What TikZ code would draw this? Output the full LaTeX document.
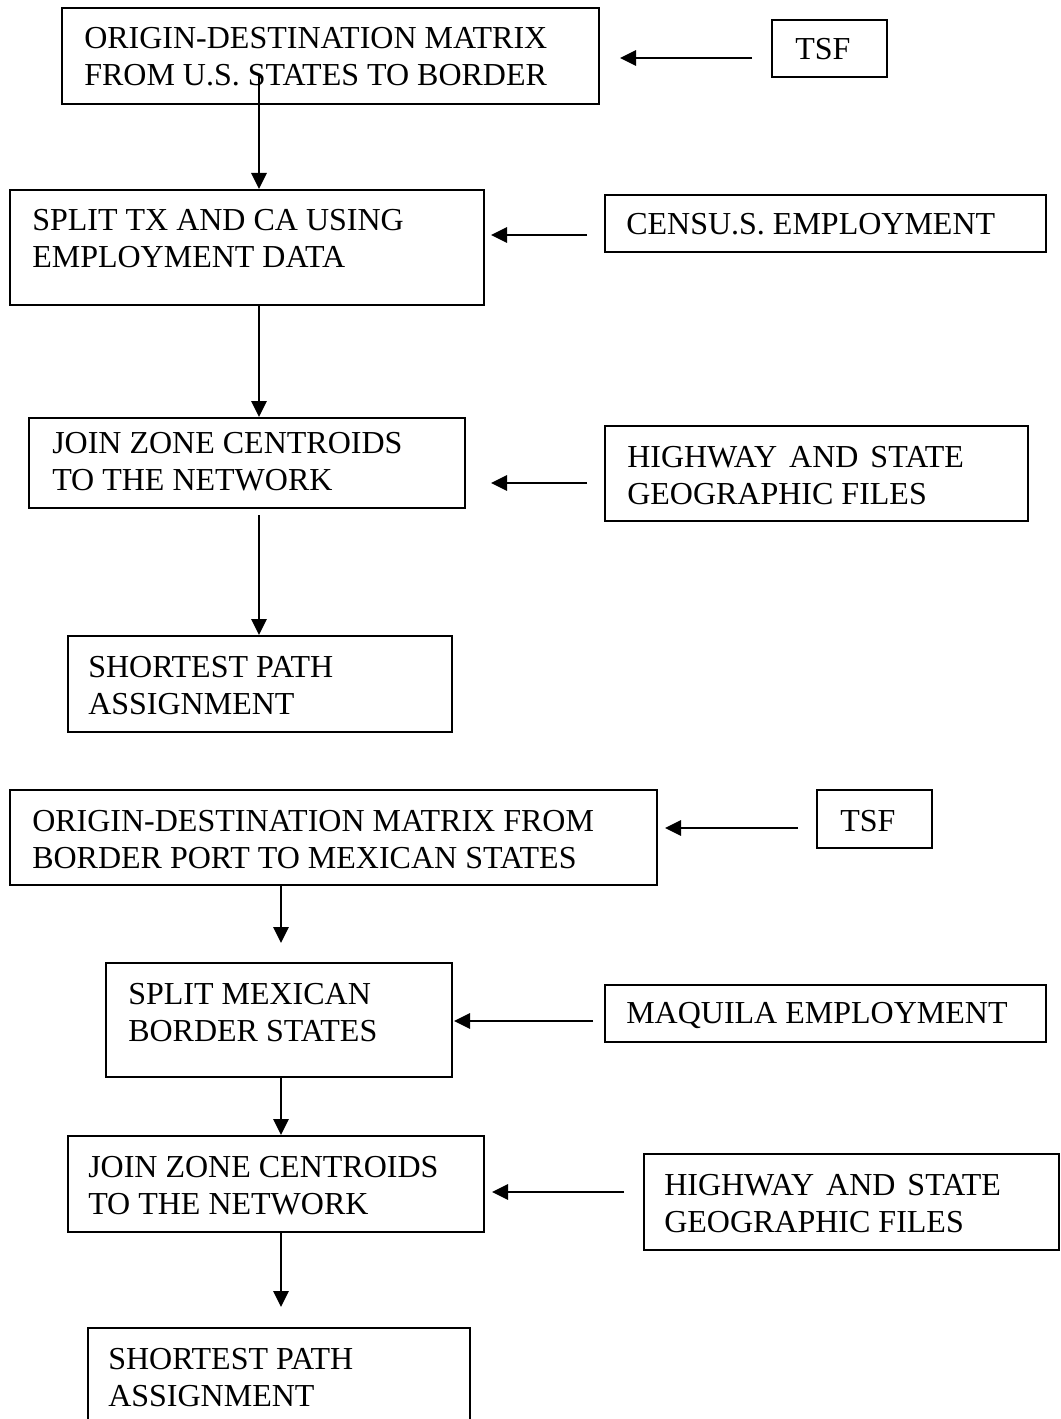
\documentclass[tikz,border=0pt]{standalone}
\usepackage{fontspec}
\setmainfont{Liberation Serif}
\usetikzlibrary{arrows.meta,fit,calc}

\begin{document}
\begin{tikzpicture}[
    x=0.75pt, y=-0.75pt,
    box/.style={draw, line width=1.5pt, inner sep=0pt},
    lbl/.style={anchor=base west, inner sep=0pt, font=\fontsize{24}{27.75}\selectfont},
    arr/.style={line width=1.3pt, -{Triangle[length=12pt,width=11.5pt]}}
  ]
  \useasboundingbox (0,0) rectangle (1060,1419);
  \clip (0,0) rectangle (1060,1419);

  % ---------- U.S. side ----------
  \node[box, fit={(62,8) (599,104)}] (od1) {};
  \node[lbl] (od1t) at (84,49) {\begin{tabular}[t]{@{}l@{}}ORIGIN-DESTINATION MATRIX\\FROM U.S. STATES TO BORDER\end{tabular}};

  \node[box, fit={(772,20) (887,77)}] (tsf1) {};
  \node[lbl] (tsf1t) at (795,60) {TSF};

  \node[box, fit={(10,190) (484,305)}] (split1) {};
  \node[lbl] (split1t) at (32,231) {\begin{tabular}[t]{@{}l@{}}SPLIT TX AND CA USING\\EMPLOYMENT DATA\end{tabular}};

  \node[box, fit={(605,195) (1046,252)}] (cens) {};
  \node[lbl] (censt) at (626,235) {CENSU.S. EMPLOYMENT};

  \node[box, fit={(29,418) (465,508)}] (join1) {};
  \node[lbl] (join1t) at (52,453) {\begin{tabular}[t]{@{}l@{}}JOIN ZONE CENTROIDS\\TO THE NETWORK\end{tabular}};

  \node[box, fit={(605,426) (1028,521)}] (hw1) {};
  \node[lbl] (hw1t) at (627,467) {\begin{tabular}[t]{@{}l@{}}HIGHWAY\hspace{3pt} AND\hspace{3pt} STATE\\GEOGRAPHIC FILES\end{tabular}};

  \node[box, fit={(68,636) (452,732)}] (sp1) {};
  \node[lbl] (sp1t) at (88,677) {\begin{tabular}[t]{@{}l@{}}SHORTEST PATH\\ASSIGNMENT\end{tabular}};

  % ---------- Mexican side ----------
  \node[box, fit={(10,790) (657,885)}] (od2) {};
  \node[lbl] (od2t) at (32,831) {\begin{tabular}[t]{@{}l@{}}ORIGIN-DESTINATION MATRIX FROM\\BORDER PORT TO MEXICAN STATES\end{tabular}};

  \node[box, fit={(817,790) (932,848)}] (tsf2) {};
  \node[lbl] (tsf2t) at (840,831) {TSF};

  \node[box, fit={(106,963) (452,1077)}] (split2) {};
  \node[lbl] (split2t) at (128,1004) {\begin{tabular}[t]{@{}l@{}}SPLIT MEXICAN\\BORDER STATES\end{tabular}};

  \node[box, fit={(605,985) (1046,1042)}] (maq) {};
  \node[lbl] (maqt) at (626,1023) {MAQUILA EMPLOYMENT};

  \node[box, fit={(68,1136) (484,1232)}] (join2) {};
  \node[lbl] (join2t) at (88,1177) {\begin{tabular}[t]{@{}l@{}}JOIN ZONE CENTROIDS\\TO THE NETWORK\end{tabular}};

  \node[box, fit={(644,1154) (1059,1250)}] (hw2) {};
  \node[lbl] (hw2t) at (664,1195) {\begin{tabular}[t]{@{}l@{}}HIGHWAY\hspace{3pt} AND\hspace{3pt} STATE\\GEOGRAPHIC FILES\end{tabular}};

  \node[box, fit={(88,1328) (470,1440)}] (sp2) {};
  \node[lbl] (sp2t) at (108,1369) {\begin{tabular}[t]{@{}l@{}}SHORTEST PATH\\ASSIGNMENT\end{tabular}};

  % ---------- connector ends ----------
  \coordinate (v1) at (259,75);
  \coordinate (v2) at (259,305);
  \coordinate (v3) at (259,515);
  \coordinate (v4) at (281,885);
  \coordinate (v4e) at (281,943);
  \coordinate (v5) at (281,1077);
  \coordinate (v6) at (281,1232);
  \coordinate (v6e) at (281,1307);

  \coordinate (h1a) at (752,58);  \coordinate (h1b) at (620,58);
  \coordinate (h2a) at (587,235); \coordinate (h2b) at (491,235);
  \coordinate (h3a) at (587,483); \coordinate (h3b) at (491,483);
  \coordinate (h4a) at (798,828); \coordinate (h4b) at (665,828);
  \coordinate (h5a) at (593,1021); \coordinate (h5b) at (454,1021);
  \coordinate (h6a) at (624,1192); \coordinate (h6b) at (492,1192);

  % ---------- vertical flow ----------
  \draw[arr] (v1) -- (v1 |- split1.north);
  \draw[arr] (v2) -- (v2 |- join1.north);
  \draw[arr] (v3) -- (v3 |- sp1.north);
  \draw[arr] (v4) -- (v4e);
  \draw[arr] (v5) -- (v5 |- join2.north);
  \draw[arr] (v6) -- (v6e);

  % ---------- inputs ----------
  \draw[arr] (h1a) -- (h1b);
  \draw[arr] (h2a) -- (h2b);
  \draw[arr] (h3a) -- (h3b);
  \draw[arr] (h4a) -- (h4b);
  \draw[arr] (h5a) -- (h5b);
  \draw[arr] (h6a) -- (h6b);
\end{tikzpicture}
\end{document}
